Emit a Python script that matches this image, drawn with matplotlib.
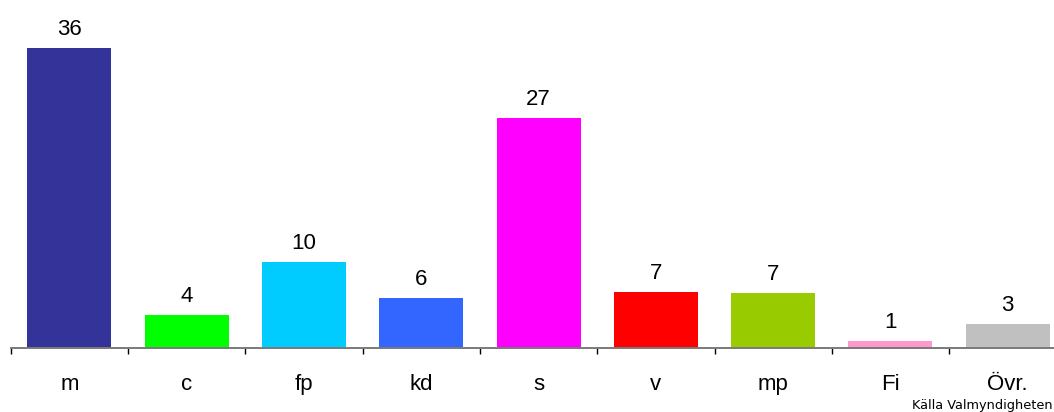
#!/usr/bin/env python3
"""Stapeldiagram: valresultat per parti (procent), källa Valmyndigheten."""
import matplotlib
matplotlib.use("Agg")
import matplotlib.pyplot as plt
import numpy as np

# Partier och andel röster (%), etiketterna avrundade
partier = ["m", "c", "fp", "kd", "s", "v", "mp", "Fi", "Övr."]
andel = [35.7, 3.9, 10.2, 6.0, 27.4, 6.7, 6.6, 0.8, 2.9]
farger = ["#333399", "#00FF00", "#00CCFF", "#3366FF", "#FF00FF",
          "#FF0000", "#99CC00", "#FF99CC", "#C0C0C0"]
kalla = "Källa Valmyndigheten"

plt.rcParams.update({"font.family": ["Liberation Sans", "DejaVu Sans"],
                     "font.size": 16})

fig = plt.figure(figsize=(10.54, 4.12), dpi=100)
# axeln sticker ut lite till höger, som i originalet
ax = fig.add_axes([0.0102, 0.1553, 1.0016, 0.8155])

x = np.arange(len(partier))
staplar = ax.bar(x, andel, 0.716, color=farger, zorder=2)
for r, v in zip(staplar, andel):
    ax.annotate(f"{v:.0f}", (r.get_x() + r.get_width() / 2, r.get_height()),
                xytext=(0, 9.4), textcoords="offset points",
                ha="center", va="baseline", fontsize=16)

ax.set_xlim(-0.5, len(partier) - 0.5)
ax.set_ylim(0, 40)

# bara x-axeln syns; streck mellan kategorierna
for s in ("top", "right", "left"):
    ax.spines[s].set_visible(False)
ax.spines["bottom"].set_color("#7a7a7a")
ax.spines["bottom"].set_linewidth(1.4)
ax.spines["bottom"].set_zorder(3)
ax.set_yticks([])
ax.set_xticks(x)
ax.set_xticklabels(partier)
ax.tick_params(axis="x", which="major", length=0, pad=30.2)
for t in ax.get_xticklabels():
    t.set_va("baseline")
ax.set_xticks(np.arange(len(partier) + 1) - 0.5, minor=True)
ax.tick_params(axis="x", which="minor", length=4.5, width=1, color="black",
               direction="out")

fig.text(912 / 1054, 2.7 / 412, kalla, fontsize=9.3, va="baseline",
         family="DejaVu Sans")

fig.savefig("out.png", dpi=100)
